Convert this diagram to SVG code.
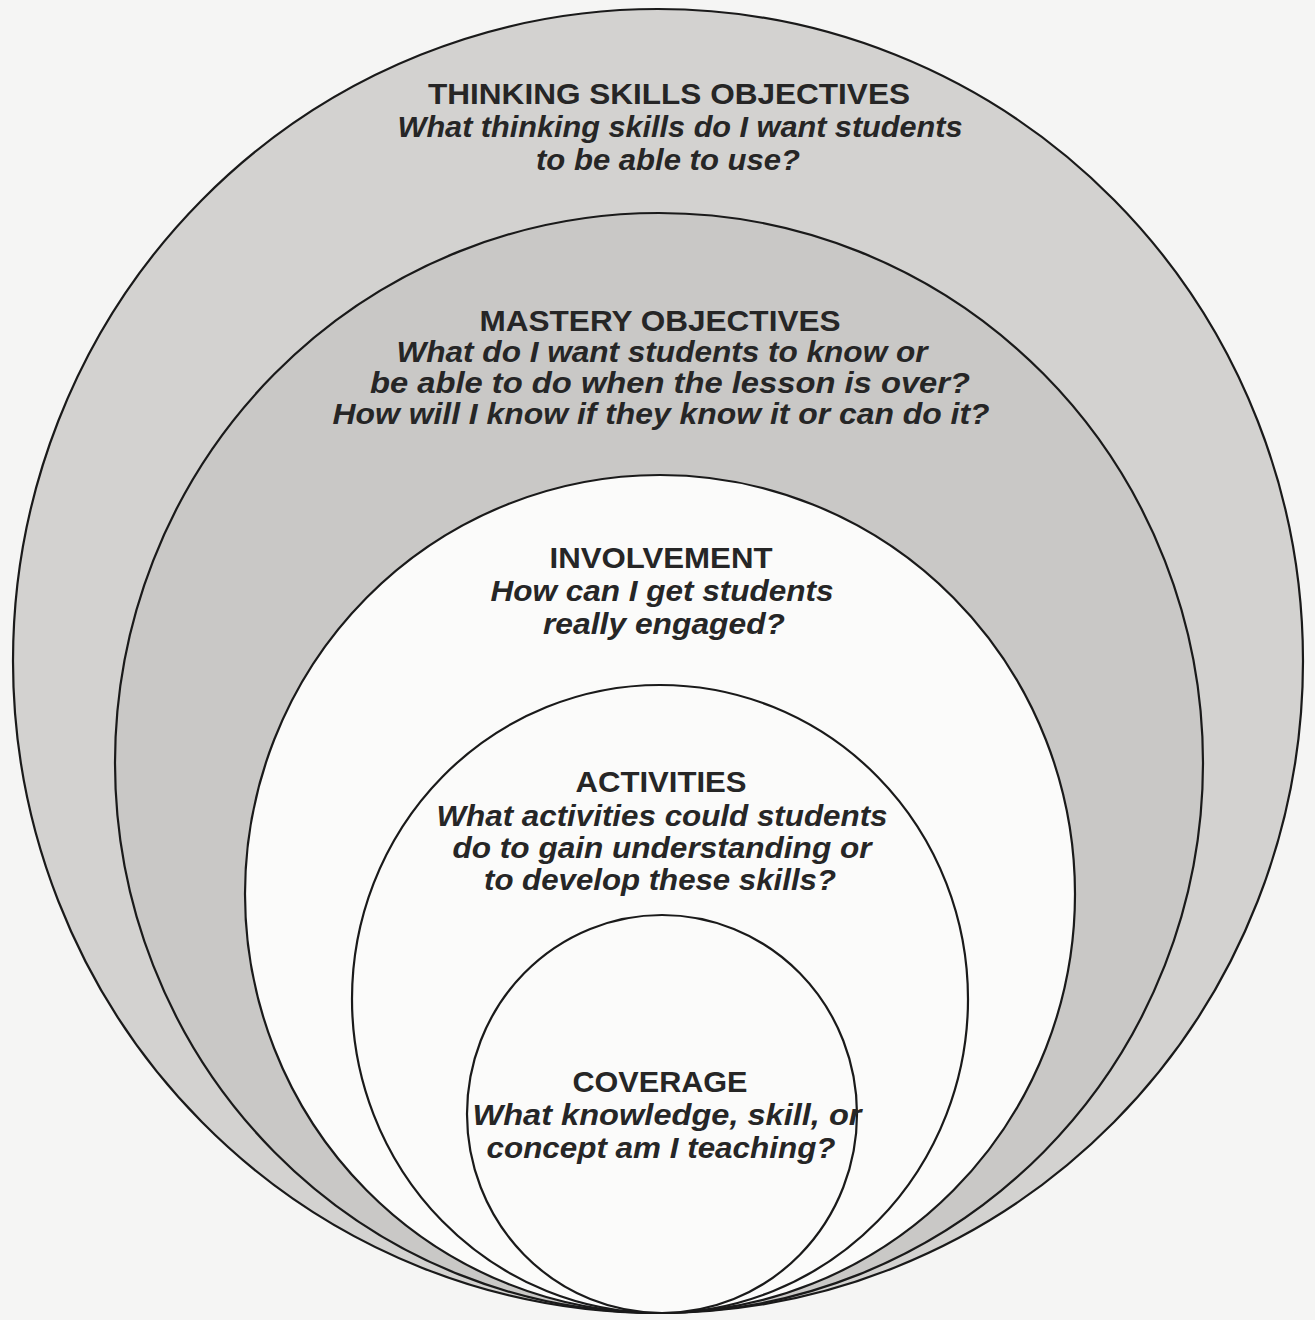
<svg xmlns="http://www.w3.org/2000/svg" width="1315" height="1320" viewBox="0 0 1315 1320">
  <style>
    .ring { stroke: #1a1a1a; stroke-width: 2.2; }
    .g1 { fill: #d3d2d0; }
    .g2 { fill: #c9c8c6; }
    .w { fill: #fbfbfa; }
    .h { font-family: "Liberation Sans", Arial, sans-serif; font-weight: bold; font-size: 30px; fill: #262626; text-anchor: middle; }
    .q { font-family: "Liberation Sans", Arial, sans-serif; font-weight: bold; font-style: italic; font-size: 30px; fill: #262626; text-anchor: middle; }
  </style>
  <rect x="0" y="0" width="1315" height="1320" fill="#f5f5f4"/>

  <g id="thinking-skills-objectives">
    <ellipse class="ring g1" cx="658" cy="661" rx="645" ry="652"/>
    <text class="h" x="669" y="104" textLength="482" lengthAdjust="spacingAndGlyphs">THINKING SKILLS OBJECTIVES</text>
    <text class="q" x="680" y="137" textLength="565" lengthAdjust="spacingAndGlyphs">What thinking skills do I want students</text>
    <text class="q" x="668" y="170" textLength="264" lengthAdjust="spacingAndGlyphs">to be able to use?</text>
  </g>

  <g id="mastery-objectives">
    <ellipse class="ring g2" cx="659" cy="763" rx="544" ry="550"/>
    <text class="h" x="660" y="331" textLength="361" lengthAdjust="spacingAndGlyphs">MASTERY OBJECTIVES</text>
    <text class="q" x="662" y="362" textLength="531" lengthAdjust="spacingAndGlyphs">What do I want students to know or</text>
    <text class="q" x="670" y="393" textLength="600" lengthAdjust="spacingAndGlyphs">be able to do when the lesson is over?</text>
    <text class="q" x="661" y="424" textLength="657" lengthAdjust="spacingAndGlyphs">How will I know if they know it or can do it?</text>
  </g>

  <g id="involvement">
    <ellipse class="ring w" cx="660" cy="894" rx="415" ry="419"/>
    <text class="h" x="661" y="568" textLength="223" lengthAdjust="spacingAndGlyphs">INVOLVEMENT</text>
    <text class="q" x="662" y="601" textLength="343" lengthAdjust="spacingAndGlyphs">How can I get students</text>
    <text class="q" x="664" y="634" textLength="242" lengthAdjust="spacingAndGlyphs">really engaged?</text>
  </g>

  <g id="activities">
    <ellipse class="ring w" cx="660" cy="999" rx="308" ry="314"/>
    <text class="h" x="661" y="792" textLength="171" lengthAdjust="spacingAndGlyphs">ACTIVITIES</text>
    <text class="q" x="662" y="826" textLength="451" lengthAdjust="spacingAndGlyphs">What activities could students</text>
    <text class="q" x="662" y="858" textLength="419" lengthAdjust="spacingAndGlyphs">do to gain understanding or</text>
    <text class="q" x="660" y="890" textLength="352" lengthAdjust="spacingAndGlyphs">to develop these skills?</text>
  </g>

  <g id="coverage">
    <ellipse class="ring w" cx="662" cy="1114" rx="195" ry="199"/>
    <text class="h" x="660" y="1092" textLength="175" lengthAdjust="spacingAndGlyphs">COVERAGE</text>
    <text class="q" x="667" y="1125" textLength="389" lengthAdjust="spacingAndGlyphs">What knowledge, skill, or</text>
    <text class="q" x="661" y="1158" textLength="349" lengthAdjust="spacingAndGlyphs">concept am I teaching?</text>
  </g>

  <g id="connectors"></g>
</svg>
